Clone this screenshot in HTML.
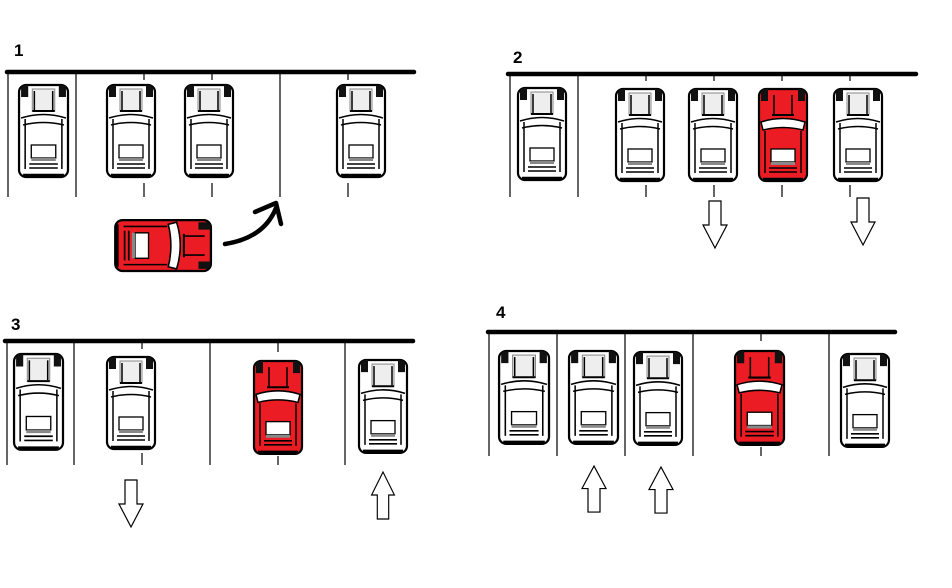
<!DOCTYPE html>
<html><head><meta charset="utf-8"><style>
html,body{margin:0;padding:0;background:#fff;}
svg{display:block;}
text{font-family:"Liberation Sans",sans-serif;font-weight:bold;font-size:17px;fill:#000;}
</style></head><body>
<svg width="952" height="588" viewBox="0 0 952 588" xmlns="http://www.w3.org/2000/svg">
<defs>
<g id="car">
  <rect x="2" y="2" width="48" height="92" rx="7" fill="#fff" stroke="#000" stroke-width="2.2"/>
  <path d="M4 6 Q4 2 9 2 L11 2 L11 14 L4 14Z M48 6 Q48 2 43 2 L41 2 L41 14 L48 14Z" fill="#111"/>
  <rect x="15" y="6" width="22" height="22" fill="#eee" stroke="#888" stroke-width="1"/>
  <line x1="17" y1="8" x2="17" y2="27" stroke="#000" stroke-width="1.5"/>
  <line x1="35" y1="8" x2="35" y2="27" stroke="#000" stroke-width="1.5"/>
  <line x1="15" y1="28" x2="37" y2="28" stroke="#000" stroke-width="2"/>
  <path d="M4 35 Q26 28 48 35" fill="none" stroke="#000" stroke-width="1.5"/>
  <path d="M6 42 Q26 37 46 42" fill="none" stroke="#000" stroke-width="1.5"/>
  <line x1="8" y1="36" x2="8" y2="86" stroke="#000" stroke-width="1.5"/>
  <line x1="44" y1="36" x2="44" y2="86" stroke="#000" stroke-width="1.5"/>
  <rect x="14" y="62" width="24" height="13" fill="#fff" stroke="#000" stroke-width="1.3"/>
  <rect x="14" y="75" width="24" height="3" fill="#888"/>
  <line x1="12" y1="81" x2="40" y2="81" stroke="#000" stroke-width="1.6"/>
  <line x1="12" y1="85" x2="40" y2="85" stroke="#000" stroke-width="1.6"/>
  <line x1="6" y1="92" x2="46" y2="92" stroke="#000" stroke-width="2.5"/>
</g>
<g id="redcar">
  <rect x="2" y="2" width="48" height="92" rx="7" fill="#ec1c24" stroke="#000" stroke-width="2.2"/>
  <path d="M4 6 Q4 2 9 2 L11 2 L11 14 L4 14Z M48 6 Q48 2 43 2 L41 2 L41 14 L48 14Z" fill="#111"/>
  <line x1="17" y1="8" x2="17" y2="27" stroke="#000" stroke-width="1.5"/>
  <line x1="35" y1="8" x2="35" y2="27" stroke="#000" stroke-width="1.5"/>
  <line x1="15" y1="28" x2="37" y2="28" stroke="#000" stroke-width="2"/>
  <path d="M4 35 Q26 28 48 35 L46 43 Q26 38 6 43Z" fill="#fff" stroke="#000" stroke-width="1.5"/>
  <line x1="8" y1="44" x2="8" y2="86" stroke="#000" stroke-width="1.5"/>
  <line x1="44" y1="44" x2="44" y2="86" stroke="#000" stroke-width="1.5"/>
  <rect x="14" y="62" width="24" height="13" fill="#fff" stroke="#000" stroke-width="1.3"/>
  <rect x="14" y="75" width="24" height="3" fill="#888"/>
  <line x1="12" y1="81" x2="40" y2="81" stroke="#000" stroke-width="1.6"/>
  <line x1="12" y1="85" x2="40" y2="85" stroke="#000" stroke-width="1.6"/>
  <line x1="6" y1="92" x2="46" y2="92" stroke="#000" stroke-width="2.5"/>
</g>
<path id="down" d="M-6 0 H6 V24 H12 L0 47 L-12 24 H-6Z" fill="#fff" stroke="#000" stroke-width="1.2"/>
<path id="up" d="M-6 47 H6 V23 H12 L0 0 L-12 23 H-6Z" fill="#fff" stroke="#000" stroke-width="1.2"/>
</defs>

<!-- Panel 1 -->
<text x="14" y="56">1</text>
<line x1="7" y1="72" x2="414" y2="72" stroke="#000" stroke-width="4.5" stroke-linecap="round"/>
<g stroke="#000" stroke-width="1.2">
<line x1="8" y1="74" x2="8" y2="197"/><line x1="76" y1="74" x2="76" y2="197"/>
<line x1="144" y1="74" x2="144" y2="80"/><line x1="144" y1="183" x2="144" y2="197"/>
<line x1="212" y1="74" x2="212" y2="80"/><line x1="212" y1="183" x2="212" y2="197"/>
<line x1="280" y1="74" x2="280" y2="197"/>
<line x1="348" y1="74" x2="348" y2="80"/><line x1="348" y1="183" x2="348" y2="197"/>
</g>
<use href="#car" transform="translate(17,83) scale(1.02,1.0)"/>
<use href="#car" transform="translate(105,83) scale(1.0,1.0)"/>
<use href="#car" transform="translate(183,83) scale(1.0,1.0)"/>
<use href="#car" transform="translate(335,83) scale(1.0,1.0)"/>
<use href="#redcar" transform="translate(213,218) rotate(90) scale(1.06,1.04)"/>
<path d="M225 244 Q264 238 276 208" fill="none" stroke="#000" stroke-width="4.5" stroke-linecap="round"/>
<path d="M255 212 L276 203 L281 224" fill="none" stroke="#000" stroke-width="4.5" stroke-linecap="round" stroke-linejoin="round"/>

<!-- Panel 2 -->
<text x="513" y="63">2</text>
<line x1="508" y1="74" x2="916" y2="74" stroke="#000" stroke-width="4.5" stroke-linecap="round"/>
<g stroke="#000" stroke-width="1.2">
<line x1="510" y1="76" x2="510" y2="197"/><line x1="578" y1="76" x2="578" y2="197"/>
<line x1="646" y1="76" x2="646" y2="81"/><line x1="646" y1="185" x2="646" y2="197"/>
<line x1="714" y1="76" x2="714" y2="81"/><line x1="714" y1="185" x2="714" y2="197"/>
<line x1="782" y1="76" x2="782" y2="81"/><line x1="782" y1="185" x2="782" y2="197"/>
<line x1="850" y1="76" x2="850" y2="81"/><line x1="850" y1="185" x2="850" y2="197"/>
</g>
<use href="#car" transform="translate(516,86)"/>
<use href="#car" transform="translate(614,87)"/>
<use href="#car" transform="translate(687,87)"/>
<use href="#redcar" transform="translate(757,87)"/>
<use href="#car" transform="translate(832,87)"/>
<use href="#down" transform="translate(715,201)"/>
<use href="#down" transform="translate(863,198)"/>

<!-- Panel 3 -->
<text x="11" y="330">3</text>
<line x1="5" y1="341" x2="413" y2="341" stroke="#000" stroke-width="4.5" stroke-linecap="round"/>
<g stroke="#000" stroke-width="1.2">
<line x1="7" y1="343" x2="7" y2="465"/><line x1="74" y1="343" x2="74" y2="465"/>
<line x1="142" y1="343" x2="142" y2="349"/><line x1="142" y1="453" x2="142" y2="465"/>
<line x1="210" y1="343" x2="210" y2="465"/>
<line x1="278" y1="343" x2="278" y2="352"/><line x1="278" y1="456" x2="278" y2="465"/>
<line x1="345" y1="343" x2="345" y2="465"/>
</g>
<use href="#car" transform="translate(12,352) scale(1.02,1.04)"/>
<use href="#car" transform="translate(105,355)"/>
<use href="#redcar" transform="translate(252,359) scale(1,1.01)"/>
<use href="#car" transform="translate(357,358) scale(1,1.01)"/>
<use href="#down" transform="translate(131,480)"/>
<use href="#up" transform="translate(383,472) scale(0.95,1)"/>

<!-- Panel 4 -->
<text x="496" y="318">4</text>
<line x1="488" y1="332" x2="895" y2="332" stroke="#000" stroke-width="4.5" stroke-linecap="round"/>
<g stroke="#000" stroke-width="1.2">
<line x1="489" y1="334" x2="489" y2="456"/><line x1="557" y1="334" x2="557" y2="456"/>
<line x1="625" y1="334" x2="625" y2="456"/><line x1="693" y1="334" x2="693" y2="456"/>
<line x1="761" y1="334" x2="761" y2="341"/><line x1="761" y1="447" x2="761" y2="456"/>
<line x1="829" y1="334" x2="829" y2="456"/>
</g>
<use href="#car" transform="translate(497,349) scale(1.04,1.01)"/>
<use href="#car" transform="translate(567,349) scale(1.02,1.01)"/>
<use href="#car" transform="translate(632,350) scale(1,1.01)"/>
<use href="#redcar" transform="translate(733,349) scale(1.02,1.02)"/>
<use href="#car" transform="translate(839,352) scale(1,1.01)"/>
<use href="#up" transform="translate(594,466) scale(1,0.98)"/>
<use href="#up" transform="translate(661,467) scale(1,0.98)"/>
</svg>
</body></html>
